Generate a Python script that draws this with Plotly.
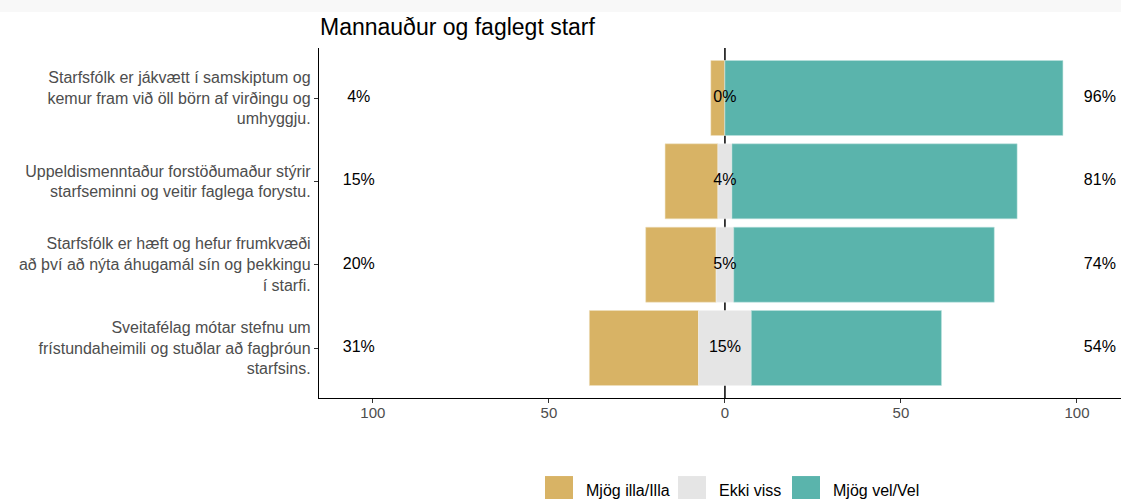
import plotly.graph_objects as go

# questions, top to bottom
questions = [
    "Starfsfólk er jákvætt í samskiptum og<br>kemur fram við öll börn af virðingu og<br>umhyggju.",
    "Uppeldismenntaður forstöðumaður stýrir<br>starfseminni og veitir faglega forystu.",
    "Starfsfólk er hæft og hefur frumkvæði<br>að því að nýta áhugamál sín og þekkingu<br>í starfi.",
    "Sveitafélag mótar stefnu um<br>frístundaheimili og stuðlar að fagþróun<br>starfsins.",
]
illa = [4, 15, 20, 31]      # Mjög illa/Illa
ekki_viss = [0, 4, 5, 15]   # Ekki viss
vel = [96, 81, 74, 54]      # Mjög vel/Vel

legend_names = ["Mjög illa/Illa", "Ekki viss", "Mjög vel/Vel"]
colors = ["#D8B365", "#E5E5E5", "#5AB4AC"]
tick_vals = [-100, -50, 0, 50, 100]
tick_text = ["100", "50", "0", "50", "100"]

FONT = "Liberation Sans, Arial"
half = [n / 2 for n in ekki_viss]

fig = go.Figure()
fig.add_trace(go.Bar(y=questions, x=[-v for v in illa], base=[-h for h in half],
                     orientation="h", marker_color=colors[0], width=0.9,
                     marker_line=dict(color="#EFE0C0", width=0.5), showlegend=False))
fig.add_trace(go.Bar(y=questions, x=ekki_viss, base=[-h for h in half],
                     orientation="h", marker_color=colors[1], width=0.9,
                     marker_line=dict(color="#F2F2F2", width=0.5), showlegend=False))
fig.add_trace(go.Bar(y=questions, x=vel, base=half,
                     orientation="h", marker_color=colors[2], width=0.9,
                     marker_line=dict(color="#BFE2DE", width=0.5), showlegend=False))

# zero line behind the bars
fig.add_shape(type="line", x0=0, x1=0, y0=0, y1=1, xref="x", yref="paper",
              line=dict(color="black", width=1.5), layer="below")

# percentage labels
lbl = dict(size=16, color="black", family=FONT)
fig.add_trace(go.Scatter(y=questions, x=[-104] * len(questions), mode="text",
                         text=[f"{v}%" for v in illa], textfont=lbl,
                         showlegend=False, cliponaxis=False))
fig.add_trace(go.Scatter(y=questions, x=[0] * len(questions), mode="text",
                         text=[f"{v}%" for v in ekki_viss], textfont=lbl,
                         showlegend=False, cliponaxis=False))
fig.add_trace(go.Scatter(y=questions, x=[106.5] * len(questions), mode="text",
                         text=[f"{v}%" for v in vel], textfont=lbl,
                         showlegend=False, cliponaxis=False))

# legend drawn by hand (big square keys like the original)
key_x = [0.2818, 0.4476, 0.5898]
for kx, name, col in zip(key_x, legend_names, colors):
    fig.add_shape(type="rect", xref="paper", yref="paper",
                  x0=kx, x1=kx + 0.0349, y0=-0.303, y1=-0.223,
                  fillcolor=col, line=dict(width=0))
    fig.add_annotation(x=kx + 0.0349 + 0.0137, y=-0.263, xref="paper", yref="paper",
                       text=name, showarrow=False, xanchor="left", yanchor="middle",
                       font=dict(size=16, color="black", family=FONT))

# faint strip at the top of the page
fig.add_shape(type="rect", xref="paper", yref="paper", x0=-0.5, x1=1.1,
              y0=1.1029, y1=1.2, fillcolor="#F8F8F8", line=dict(width=0), layer="below")

fig.update_layout(
    width=1121, height=499,
    barmode="overlay",
    plot_bgcolor="white", paper_bgcolor="white",
    margin=dict(l=319, r=0, t=48, b=101),
    font=dict(family=FONT, size=15, color="#4D4D4D"),
    title=dict(text="Mannauður og faglegt starf", x=320 / 1121, xanchor="left",
               y=0.9459, yanchor="middle",
               font=dict(size=23, color="black", family=FONT)),
    xaxis=dict(range=[-115.3, 112.5], tickvals=tick_vals, ticktext=tick_text,
               showgrid=False, zeroline=False, showline=True, linecolor="black",
               linewidth=1.3, ticks="outside", ticklen=4, tickcolor="#333333",
               ticklabelstandoff=-3, tickfont=dict(size=15, color="#4D4D4D")),
    yaxis=dict(range=[3.6, -0.6], showgrid=False, zeroline=False, showline=True,
               linecolor="black", linewidth=1.3, ticks="outside", ticklen=4,
               tickcolor="#333333", tickfont=dict(size=16, color="#4D4D4D")),
)

# no page margin / scrollbars so the figure fills the window
fig.write_html("out.html", config={"displayModeBar": False},
               post_script="document.body.style.margin='0';"
                           "document.body.style.overflow='hidden';")
